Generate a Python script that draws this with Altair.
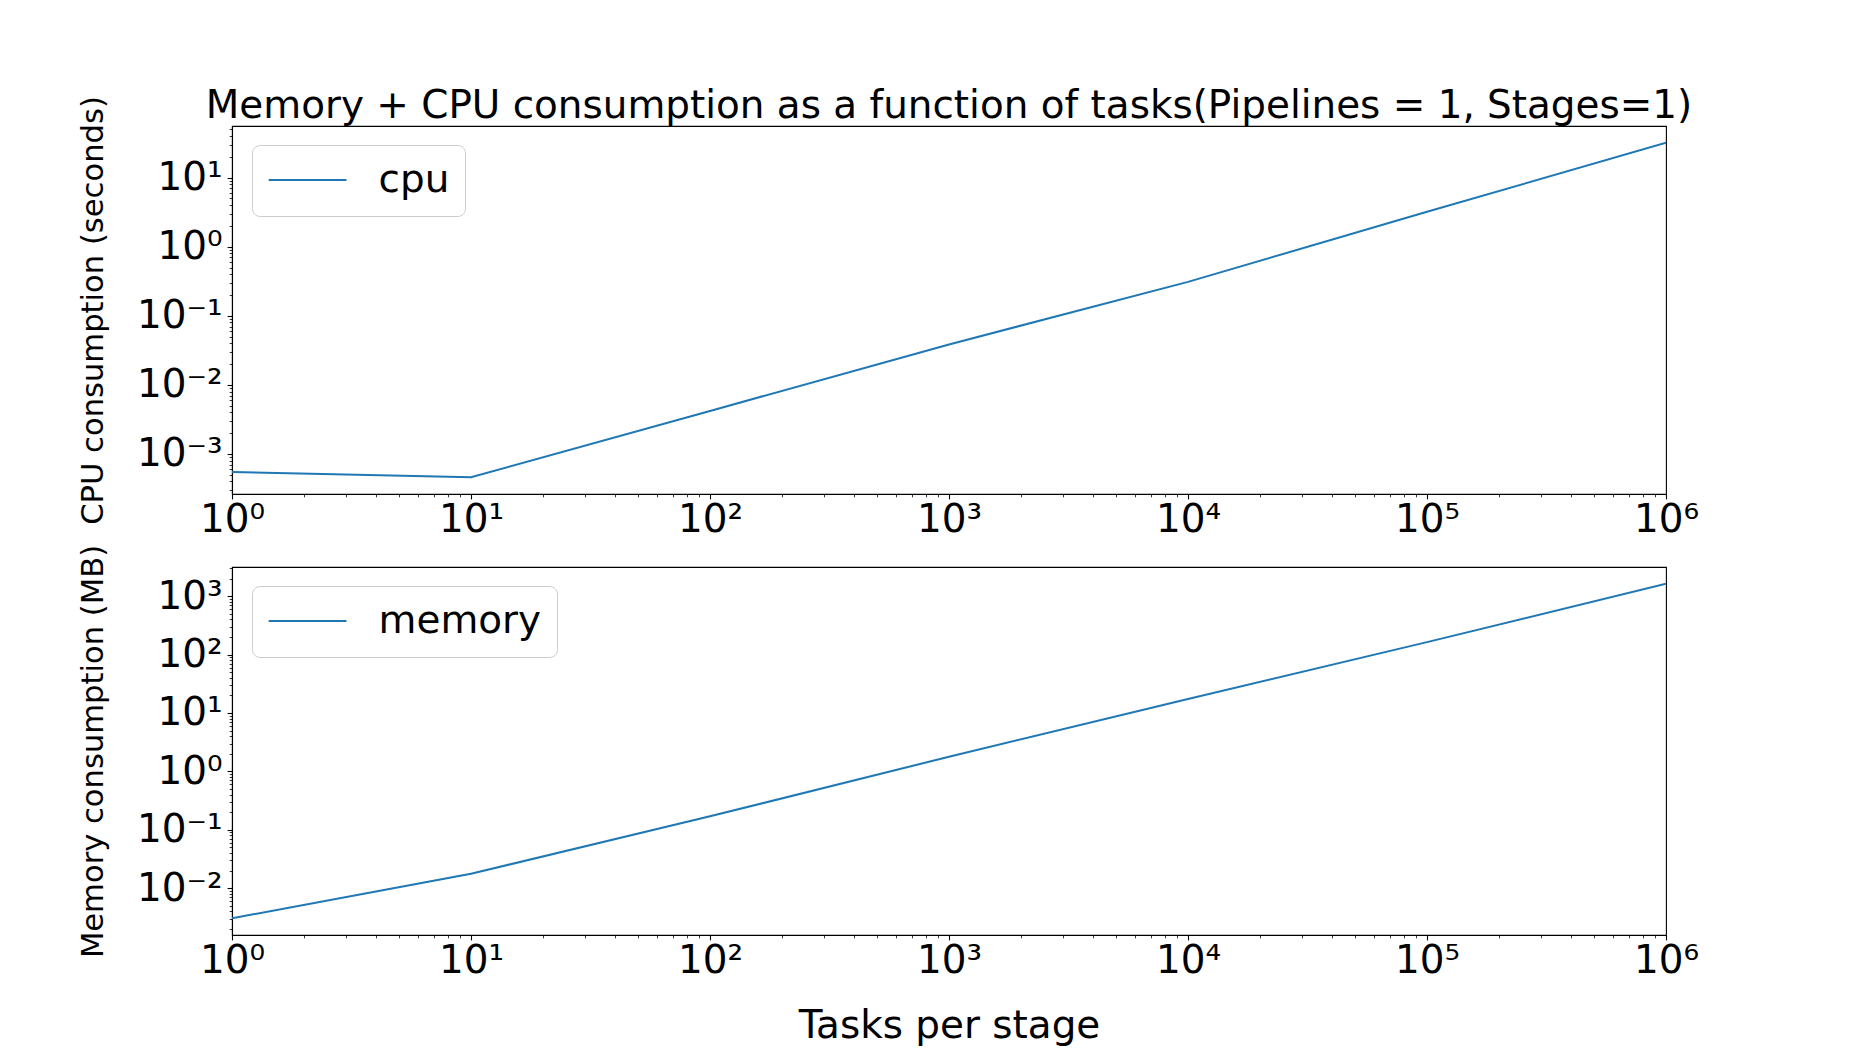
import math
import altair as alt
import pandas as pd

# ---- data ----
tasks = [1, 10, 100, 1000, 10000, 100000, 1000000]
cpu_seconds = [5.5e-4, 4.6e-4, 4.2e-3, 3.85e-2, 0.31, 3.2, 32.0]
memory_mb = [3.06e-3, 0.0177, 0.17, 1.78, 17.4, 163.0, 1630.0]

title_text = "Memory + CPU consumption as a function of tasks(Pipelines = 1, Stages=1)"
cpu_label = "CPU consumption (seconds)"
mem_label = "Memory consumption (MB)"
x_label = "Tasks per stage"

FONT = "DejaVu Sans"
BIG = 38.9
SMALL = 30.6
BLUE = "#1f77b4"

SUP = str.maketrans("-0123456789", "⁻⁰¹²³⁴⁵⁶⁷⁸⁹")
EXP_MIN = -3
exp_labels = ["10" + str(e).translate(SUP) for e in range(EXP_MIN, 7)]
label_arr = "[" + ",".join("'" + s + "'" for s in exp_labels) + "]"
LOGV = "(log(datum.value)/LN10)"
IS_MAJOR = f"abs({LOGV} - round({LOGV})) < 1e-6"
LABEL_EXPR = f"{IS_MAJOR} ? {label_arr}[round({LOGV}) - ({EXP_MIN})] : ''"


def log_domain(vals):
    lo = math.log10(min(vals))
    hi = math.log10(max(vals))
    m = (hi - lo) * 0.05
    return [10 ** (lo - m), 10 ** (hi + m)]


def log_ticks(dom):
    out = []
    for e in range(math.floor(math.log10(dom[0])) - 1, math.ceil(math.log10(dom[1])) + 1):
        for k in range(1, 10):
            v = float(f"{k}e{e}")
            if dom[0] <= v <= dom[1] * 1.0000001:
                out.append(v)
    return out


def make_axis(orient, values, title, **kw):
    return alt.Axis(
        values=values,
        labelExpr=LABEL_EXPR,
        labelOverlap=False,
        labelFlush=False,
        labelFont=FONT,
        labelFontSize=BIG,
        labelColor="black",
        tickColor="black",
        domainColor="black",
        domainWidth=1.1,
        tickSize={"condition": {"test": IS_MAJOR, "value": 4.9}, "value": 2.8},
        tickWidth={"condition": {"test": IS_MAJOR, "value": 1.1}, "value": 0.8},
        grid=False,
        orient=orient,
        title=title,
        titleFont=FONT,
        titleFontWeight="normal",
        titleColor="black",
        **kw,
    )


x_dom = [1, 1e6]
x_vals = log_ticks(x_dom)


def panel(values, series, ylab, show_xtitle, title=None):
    df = pd.DataFrame({"tasks": tasks, "value": values, "series": series})
    dom = log_domain(values)
    xkw = dict(labelPadding=2, labelAlign="center", labelBaseline="top")
    if show_xtitle:
        xkw.update(titleFontSize=BIG, titlePadding=26)
    xaxis = make_axis("bottom", x_vals, x_label if show_xtitle else None, **xkw)
    yaxis = make_axis(
        "left", log_ticks(dom), ylab,
        labelPadding=4.9, labelAlign="right", labelBaseline="middle",
        titleFontSize=SMALL, titleX=-130, titleBaseline="alphabetic", titleAngle=270,
    )
    legend = alt.Legend(
        title=None, orient="none", legendX=20, legendY=19,
        symbolType="stroke", symbolSize=6053, symbolStrokeWidth=2,
        labelFont=FONT, labelFontSize=BIG, labelColor="black", labelOffset=31,
        labelLimit=400, clipHeight=39,
        padding=15.6, strokeColor="#cccccc", fillColor="rgba(255,255,255,0.8)",
        cornerRadius=7.8,
    )
    ch = alt.Chart(df).mark_line(strokeWidth=2, clip=True).encode(
        x=alt.X("tasks:Q", scale=alt.Scale(type="log", domain=x_dom, nice=False), axis=xaxis),
        y=alt.Y("value:Q", scale=alt.Scale(type="log", domain=dom, nice=False), axis=yaxis),
        color=alt.Color("series:N", scale=alt.Scale(range=[BLUE]), legend=legend),
    )
    props = dict(width=1434, height=368)
    if title:
        props["title"] = alt.TitleParams(
            text=title, font=FONT, fontSize=BIG, fontWeight="normal", color="black",
            anchor="middle", offset=-61, baseline="alphabetic",
        )
    return ch.properties(**props)


top = panel(cpu_seconds, "cpu", cpu_label, False, title_text)
bottom = panel(memory_mb, "memory", mem_label, True)

chart = (
    alt.vconcat(top, bottom, spacing=2)
    .resolve_scale(color="independent")
    .resolve_legend(color="independent")
    .properties(padding={"left": 69, "top": 78, "right": 5, "bottom": 5}, background="white")
    .configure_view(stroke="black", strokeWidth=1.1)
)

chart.save("out.html", embed_options={"renderer": "svg", "actions": False})
